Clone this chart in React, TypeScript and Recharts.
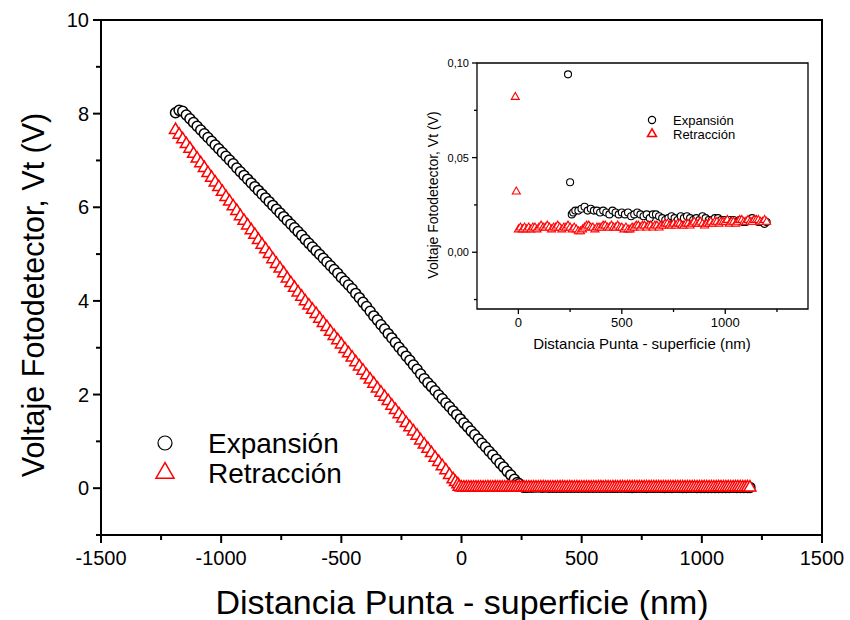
import React from 'react';
import { ScatterChart, Scatter, XAxis, YAxis, ReferenceArea, Legend } from 'recharts';

const FONT = '"Liberation Sans", Arial, sans-serif';

// Expansión: descending branch, then the near-zero plateau
const expansionSlope: [number, number][] = [
  [-1190, 8.02], [-1175, 8.07], [-1160, 8.05], [-1145, 7.97], [-1130, 7.89], [-1115, 7.81],
  [-1100, 7.73], [-1085, 7.65], [-1070, 7.57], [-1055, 7.49], [-1040, 7.41], [-1025, 7.33],
  [-1010, 7.25], [-995, 7.17], [-980, 7.09], [-965, 7.01], [-950, 6.93], [-935, 6.84],
  [-920, 6.76], [-905, 6.68], [-890, 6.6], [-875, 6.52], [-860, 6.44], [-845, 6.36],
  [-830, 6.28], [-815, 6.2], [-800, 6.12], [-785, 6.04], [-770, 5.96], [-755, 5.88],
  [-740, 5.8], [-725, 5.72], [-710, 5.64], [-695, 5.56], [-680, 5.48], [-665, 5.4],
  [-650, 5.31], [-635, 5.23], [-620, 5.15], [-605, 5.07], [-590, 4.99], [-575, 4.91],
  [-560, 4.83], [-545, 4.75], [-530, 4.67], [-515, 4.59], [-500, 4.5], [-485, 4.42],
  [-470, 4.34], [-455, 4.26], [-440, 4.16], [-425, 4.07], [-410, 3.97], [-395, 3.88],
  [-380, 3.78], [-365, 3.68], [-350, 3.59], [-335, 3.49], [-320, 3.4], [-305, 3.3],
  [-290, 3.21], [-275, 3.11], [-260, 3.01], [-245, 2.92], [-230, 2.82], [-215, 2.73],
  [-200, 2.63], [-185, 2.54], [-170, 2.44], [-155, 2.34], [-140, 2.25], [-125, 2.17],
  [-110, 2.08], [-95, 1.99], [-80, 1.91], [-65, 1.82], [-50, 1.74], [-35, 1.65],
  [-20, 1.57], [-5, 1.48], [10, 1.39], [25, 1.31], [40, 1.22], [55, 1.14],
  [70, 1.05], [85, 0.96], [100, 0.88], [115, 0.79], [130, 0.71], [145, 0.62],
  [160, 0.53], [175, 0.45], [190, 0.36], [205, 0.28], [220, 0.19], [232, 0.12],
  [240, 0.094], [250, 0.037],
];

const expansionFlat: [number, number][] = [
  [258, 0.02], [265, 0.021], [275, 0.022], [290, 0.022], [305, 0.023], [320, 0.024],
  [335, 0.022], [350, 0.023], [365, 0.022], [380, 0.022], [395, 0.021], [410, 0.022],
  [425, 0.021], [440, 0.02], [455, 0.022], [470, 0.021], [485, 0.02], [500, 0.021],
  [515, 0.02], [530, 0.021], [545, 0.019], [560, 0.02], [575, 0.021], [590, 0.02],
  [605, 0.019], [620, 0.02], [635, 0.018], [650, 0.02], [665, 0.02], [680, 0.019],
  [695, 0.018], [710, 0.017], [725, 0.018], [740, 0.019], [755, 0.018], [770, 0.017],
  [785, 0.019], [800, 0.018], [815, 0.019], [830, 0.018], [845, 0.017], [860, 0.018],
  [875, 0.017], [890, 0.019], [905, 0.018], [920, 0.017], [935, 0.017], [950, 0.018],
  [965, 0.018], [980, 0.017], [995, 0.017], [1010, 0.016], [1025, 0.017], [1040, 0.017],
  [1055, 0.016], [1070, 0.017], [1085, 0.016], [1100, 0.016], [1115, 0.017], [1130, 0.018],
  [1145, 0.017], [1160, 0.016], [1175, 0.016], [1190, 0.015], [1200, 0.016],
];

// Retracción
const retractionSlope: [number, number][] = [
  [-1190, 7.65], [-1175, 7.55], [-1160, 7.45], [-1145, 7.35], [-1130, 7.25], [-1115, 7.14],
  [-1100, 7.04], [-1085, 6.94], [-1070, 6.84], [-1055, 6.73], [-1040, 6.63], [-1025, 6.53],
  [-1010, 6.43], [-995, 6.33], [-980, 6.22], [-965, 6.12], [-950, 6.02], [-935, 5.92],
  [-920, 5.81], [-905, 5.71], [-890, 5.61], [-875, 5.51], [-860, 5.41], [-845, 5.3],
  [-830, 5.2], [-815, 5.1], [-800, 5.0], [-785, 4.89], [-770, 4.79], [-755, 4.69],
  [-740, 4.59], [-725, 4.48], [-710, 4.38], [-695, 4.28], [-680, 4.18], [-665, 4.09],
  [-650, 3.99], [-635, 3.9], [-620, 3.81], [-605, 3.72], [-590, 3.62], [-575, 3.53],
  [-560, 3.44], [-545, 3.34], [-530, 3.25], [-515, 3.16], [-500, 3.07], [-485, 2.97],
  [-470, 2.88], [-455, 2.79], [-440, 2.69], [-425, 2.6], [-410, 2.51], [-395, 2.41],
  [-380, 2.32], [-365, 2.23], [-350, 2.13], [-335, 2.04], [-320, 1.95], [-305, 1.86],
  [-290, 1.76], [-275, 1.67], [-260, 1.58], [-245, 1.49], [-230, 1.39], [-215, 1.3],
  [-200, 1.21], [-185, 1.12], [-170, 1.02], [-155, 0.93], [-140, 0.84], [-125, 0.75],
  [-110, 0.65], [-95, 0.56], [-80, 0.47], [-65, 0.38], [-50, 0.28], [-35, 0.19],
  [-25, 0.13], [-15, 0.082], [-10, 0.032],
];

const retractionFlat: [number, number][] = [
  [0, 0.012], [10, 0.013], [20, 0.012], [30, 0.013], [40, 0.012], [50, 0.013], [60, 0.012], [70, 0.013], [80, 0.013], [90, 0.012],
  [100, 0.013], [110, 0.014], [120, 0.013], [130, 0.013], [140, 0.014], [150, 0.013], [160, 0.012], [170, 0.013], [180, 0.013], [190, 0.014],
  [200, 0.013], [210, 0.012], [220, 0.013], [230, 0.013], [240, 0.014], [250, 0.013], [260, 0.012], [270, 0.013], [280, 0.012], [290, 0.011],
  [300, 0.011], [310, 0.012], [320, 0.013], [330, 0.014], [340, 0.014], [350, 0.013], [360, 0.013], [370, 0.012], [380, 0.013], [390, 0.013],
  [400, 0.013], [410, 0.014], [420, 0.014], [430, 0.013], [440, 0.013], [450, 0.014], [460, 0.013], [470, 0.013], [480, 0.014], [490, 0.013],
  [500, 0.013], [510, 0.012], [520, 0.013], [530, 0.012], [540, 0.012], [550, 0.013], [560, 0.013], [570, 0.014], [580, 0.014], [590, 0.013],
  [600, 0.014], [610, 0.014], [620, 0.013], [630, 0.014], [640, 0.014], [650, 0.013], [660, 0.014], [670, 0.014], [680, 0.013], [690, 0.014],
  [700, 0.014], [710, 0.015], [720, 0.015], [730, 0.014], [740, 0.014], [750, 0.015], [760, 0.014], [770, 0.015], [780, 0.015], [790, 0.014],
  [800, 0.014], [810, 0.015], [820, 0.015], [830, 0.014], [840, 0.015], [850, 0.016], [860, 0.015], [870, 0.015], [880, 0.016], [890, 0.015],
  [900, 0.014], [910, 0.015], [920, 0.015], [930, 0.016], [940, 0.015], [950, 0.016], [960, 0.016], [970, 0.015], [980, 0.016], [990, 0.016],
  [1000, 0.016], [1010, 0.017], [1020, 0.015], [1030, 0.016], [1040, 0.016], [1050, 0.015], [1060, 0.016], [1070, 0.017], [1080, 0.017], [1090, 0.016],
  [1100, 0.016], [1110, 0.017], [1120, 0.016], [1130, 0.016], [1140, 0.017], [1150, 0.017], [1160, 0.017], [1170, 0.016], [1180, 0.016], [1190, 0.017],
  [1200, 0.016],
];

const mainXTicks = [-1500, -1250, -1000, -750, -500, -250, 0, 250, 500, 750, 1000, 1250, 1500];
const mainYTicks = [-1, 0, 1, 2, 3, 4, 5, 6, 7, 8, 9, 10];
const insetXTicks = [0, 250, 500, 750, 1000, 1250];
const insetYTicks = [-0.025, 0, 0.025, 0.05, 0.075, 0.1];

const toPoints = (rows: [number, number][]) => rows.map(([x, y]) => ({ x, y }));
const expansion = toPoints([...expansionSlope, ...expansionFlat]);
const retraction = toPoints([...retractionSlope, ...retractionFlat]);

const ring = (r: number, w: number) => (p: any) => (
  <circle cx={p.cx} cy={p.cy} r={r} fill="#fff" stroke="#000" strokeWidth={w} />
);

const triPoints = (cx: number, cy: number, s: number) => {
  const h = s * 0.866;
  return `${cx},${cy - (h * 2) / 3} ${cx - s / 2},${cy + h / 3} ${cx + s / 2},${cy + h / 3}`;
};

const tri = (s: number, w: number) => (p: any) => (
  <polygon points={triPoints(p.cx, p.cy, s)} fill="#fff" stroke="#f00" strokeWidth={w} />
);

const MainXTick = (p: any) => {
  const major = p.payload.value % 500 === 0;
  return (
    <g>
      <line x1={p.x} x2={p.x} y1={p.y} y2={p.y + (major ? 8 : 5)} stroke="#000" strokeWidth={2} />
      {major && (
        <text x={p.x} y={p.y + 30} textAnchor="middle" fontSize={20} fontFamily={FONT} fill="#000">
          {p.payload.value}
        </text>
      )}
    </g>
  );
};

const MainYTick = (p: any) => {
  const major = p.payload.value % 2 === 0;
  return (
    <g>
      <line x1={p.x} x2={p.x - (major ? 8 : 5)} y1={p.y} y2={p.y} stroke="#000" strokeWidth={2} />
      {major && (
        <text x={p.x - 12} y={p.y + 7} textAnchor="end" fontSize={20} fontFamily={FONT} fill="#000">
          {p.payload.value}
        </text>
      )}
    </g>
  );
};

const InsetXTick = (p: any) => {
  const major = p.payload.value % 500 === 0;
  return (
    <g>
      <line x1={p.x} x2={p.x} y1={p.y} y2={p.y + (major ? 5 : 3)} stroke="#000" strokeWidth={1.3} />
      {major && (
        <text x={p.x} y={p.y + 18} textAnchor="middle" fontSize={13} fontFamily={FONT} fill="#000">
          {p.payload.value}
        </text>
      )}
    </g>
  );
};

const InsetYTick = (p: any) => {
  const major = Math.round(p.payload.value * 40) % 2 === 0;
  return (
    <g>
      <line x1={p.x} x2={p.x - (major ? 5 : 3)} y1={p.y} y2={p.y} stroke="#000" strokeWidth={1.3} />
      {major && (
        <text x={p.x - 8} y={p.y + 4} textAnchor="end" fontSize={11} fontFamily={FONT} fill="#000">
          {p.payload.value.toFixed(2).replace('.', ',')}
        </text>
      )}
    </g>
  );
};

const legendBox = (size: 'big' | 'small') => (props: any) => {
  const big = size === 'big';
  const rowH = big ? 30 : 14;
  const mx = big ? 25 : 12;
  const tx = big ? 68 : 33;
  const fs = big ? 28 : 13;
  const first = big ? 18 : 12;
  return (
    <svg width={big ? 240 : 110} height={big ? 70 : 34} style={{ display: 'block' }}>
      {(props.payload || []).map((item: any, i: number) => {
        const cy = first + i * rowH;
        return (
          <g key={item.value}>
            {i === 0 ? (
              <circle cx={mx} cy={cy} r={big ? 7 : 3.6} fill="#fff" stroke="#000" strokeWidth={1.2} />
            ) : (
              <polygon points={triPoints(mx, cy, big ? 18 : 9)} fill="#fff" stroke="#f00" strokeWidth={1.5} />
            )}
            <text x={tx} y={cy + fs * 0.36} fontSize={fs} fontFamily={FONT} fill="#000">
              {item.value}
            </text>
          </g>
        );
      })}
    </svg>
  );
};

const MainChart = () => (
  <ScatterChart width={850} height={620} margin={{ top: 20, right: 28, left: 41, bottom: 25 }}>
    <XAxis
      type="number"
      dataKey="x"
      domain={[-1500, 1500]}
      ticks={mainXTicks}
      interval={0}
      height={60}
      axisLine={false}
      tickLine={false}
      tickSize={0}
      tickMargin={0}
      tick={MainXTick}
      label={() => (
        <text x={462} y={614} textAnchor="middle" fontSize={34} fontFamily={FONT} fill="#000">
          Distancia Punta - superficie (nm)
        </text>
      )}
    />
    <YAxis
      type="number"
      dataKey="y"
      domain={[-1, 10]}
      ticks={mainYTicks}
      interval={0}
      width={60}
      axisLine={false}
      tickLine={false}
      tickSize={0}
      tickMargin={0}
      tick={MainYTick}
      label={() => (
        <text
          transform="translate(44, 295) rotate(-90)"
          textAnchor="middle"
          fontSize={30.5}
          fontFamily={FONT}
          fill="#000"
        >
          Voltaje Fotodetector, Vt (V)
        </text>
      )}
    />
    <ReferenceArea x1={-1500} x2={1500} y1={-1} y2={10} fill="none" stroke="#000" strokeWidth={2} />
    <Scatter name="Expansión" data={expansion} shape={ring(5, 1.5)} isAnimationActive={false} />
    <Scatter name="Retracción" data={retraction} shape={tri(12, 1.5)} isAnimationActive={false} />
    <Legend
      layout="vertical"
      align="center"
      verticalAlign="middle"
      content={legendBox('big')}
      wrapperStyle={{ left: 140, top: 425, width: 240, height: 70 }}
    />
  </ScatterChart>
);

const InsetChart = () => (
  <ScatterChart width={420} height={330} margin={{ top: 23, right: 12, left: 27, bottom: 21 }}>
    <XAxis
      type="number"
      dataKey="x"
      domain={[-200, 1400]}
      allowDataOverflow
      ticks={insetXTicks}
      interval={0}
      height={40}
      axisLine={false}
      tickLine={false}
      tickSize={0}
      tickMargin={0}
      tick={InsetXTick}
      label={() => (
        <text x={242} y={309} textAnchor="middle" fontSize={15} fontFamily={FONT} fill="#000">
          Distancia Punta - superficie (nm)
        </text>
      )}
    />
    <YAxis
      type="number"
      dataKey="y"
      domain={[-0.03, 0.1]}
      allowDataOverflow
      ticks={insetYTicks}
      interval={0}
      width={50}
      axisLine={false}
      tickLine={false}
      tickSize={0}
      tickMargin={0}
      tick={InsetYTick}
      label={() => (
        <text
          transform="translate(38, 155) rotate(-90)"
          textAnchor="middle"
          fontSize={14}
          fontFamily={FONT}
          fill="#000"
        >
          Voltaje Fotodetector, Vt (V)
        </text>
      )}
    />
    <ReferenceArea x1={-200} x2={1400} y1={-0.03} y2={0.1} fill="none" stroke="#000" strokeWidth={1.3} />
    <Scatter name="Expansión" data={expansion} shape={ring(3.5, 1.1)} isAnimationActive={false} />
    <Scatter name="Retracción" data={retraction} shape={tri(8, 1.1)} isAnimationActive={false} />
    <Legend
      layout="vertical"
      align="center"
      verticalAlign="middle"
      content={legendBox('small')}
      wrapperStyle={{ left: 240, top: 68, width: 110, height: 34 }}
    />
  </ScatterChart>
);

export default function App() {
  return (
    <div style={{ position: 'absolute', left: 0, top: 0, width: 850, height: 620, background: '#fff' }}>
      <MainChart />
      <div style={{ position: 'absolute', left: 400, top: 40, width: 420, height: 330 }}>
        <InsetChart />
      </div>
    </div>
  );
}
